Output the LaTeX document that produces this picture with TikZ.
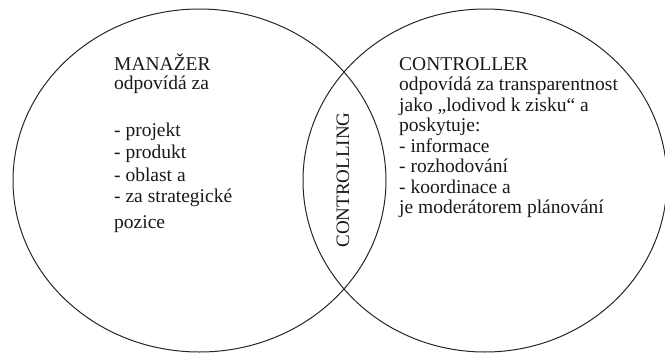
\documentclass[tikz,border=0pt]{standalone}
\usepackage{fontspec}
\setmainfont{Liberation Serif}
\begin{document}
\begin{tikzpicture}[x=1pt,y=-1pt,
  ring/.style={draw=black!85,line width=1pt},
  txt/.style={anchor=base west,inner sep=0pt,text=black!90,font=\fontsize{19.5}{21}\selectfont}]
\useasboundingbox (0,0) rectangle (665,354);
\begin{scope}
\clip (0,0) rectangle (665,354);
\draw[ring] (199.5,180.5) ellipse [x radius=186.5,y radius=171.5];
\draw[ring] (485,180.5) ellipse [x radius=182,y radius=171.5];
\end{scope}
% manager side
\node[txt] (m1) at (114,70) {MANAŽER};
\node[txt] (m2) at (114,89) {odpovídá za};
\node[txt] (m3) at (114,136.5) {- projekt};
\node[txt] (m4) at (114,158.5) {- produkt};
\node[txt] (m5) at (114,181) {- oblast a};
\node[txt] (m6) at (114,202.5) {- za strategické};
\node[txt] (m7) at (114,228) {pozice};
% controller side
\node[txt] (c1) at (399,70) {CONTROLLER};
\node[txt] (c2) at (399,90.5) {odpovídá za transparentnost};
\node[txt] (c3) at (399,111) {jako „lodivod k zisku“ a};
\node[txt] (c4) at (399,131.5) {poskytuje:};
\node[txt] (c5) at (399,152) {- informace};
\node[txt] (c6) at (399,172.5) {- rozhodování};
\node[txt] (c7) at (399,193) {- koordinace a};
\node[txt] (c8) at (399,213.5) {je moderátorem plánování};
% overlap label
\node[txt,anchor=center,rotate=90,font=\fontsize{19}{21}\selectfont] (ctl) at (343,180) {CONTROLLING};
\end{tikzpicture}
\end{document}
